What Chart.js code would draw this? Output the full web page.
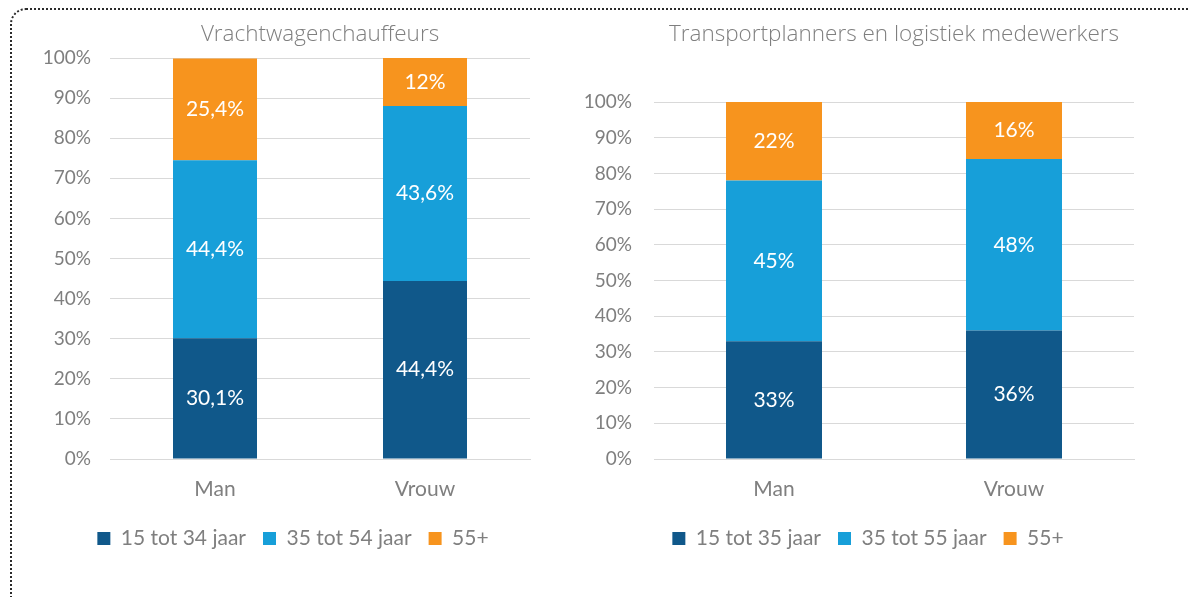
<!DOCTYPE html>
<html>
<head>
<meta charset="utf-8">
<script src="https://cdn.jsdelivr.net/npm/chart.js@4/dist/chart.umd.min.js"></script>
<style>
  html, body { margin:0; padding:0; background:#fff; overflow:hidden; }
  body { width:1190px; height:597px; position:relative; }
  .frame { position:absolute; left:10px; top:8px; width:1300px; height:700px;
           border-top:2px dotted #2b2b2b; border-left:2px dotted #2b2b2b; border-top-left-radius:16px; }
  .wrap { position:absolute; top:0; height:597px; }
  #w1 { left:0; width:560px; }
  #w2 { left:560px; width:630px; }
</style>
</head>
<body>
<div class="frame"></div>
<div class="wrap" id="w1"><canvas id="c1"></canvas></div>
<div class="wrap" id="w2"><canvas id="c2"></canvas></div>
<script>
const categories = ['Man', 'Vrouw'];

// Vrachtwagenchauffeurs
const title1 = 'Vrachtwagenchauffeurs';
const series1Names = ['15 tot 34 jaar', '35 tot 54 jaar', '55+'];
const young1 = [30.1, 44.4];
const middle1 = [44.4, 43.6];
const old1 = [25.4, 12];

// Transportplanners en logistiek medewerkers
const title2 = 'Transportplanners en logistiek medewerkers';
const series2Names = ['15 tot 35 jaar', '35 tot 55 jaar', '55+'];
const young2 = [33, 36];
const middle2 = [45, 48];
const old2 = [22, 16];

const colors = ['#10588A', '#179FD9', '#F7941E'];
const grey = '#7f7f7f';
const font = 'Lato, "Noto Sans", sans-serif';

// white value labels in the middle of each segment
const segLabels = {
  id: 'segLabels',
  afterDatasetsDraw(chart){
    const ctx = chart.ctx;
    ctx.save();
    ctx.fillStyle = '#fff';
    ctx.font = '21px ' + font;
    ctx.textAlign = 'center';
    ctx.textBaseline = 'middle';
    chart.data.datasets.forEach((ds, i) => {
      chart.getDatasetMeta(i).data.forEach((el, j) => {
        const v = ds.data[j];
        ctx.fillText(String(v).replace('.', ',') + '%', el.x, (el.y + el.base) / 2);
      });
    });
    ctx.restore();
  }
};

function build(id, title, names, data, o){
  return new Chart(document.getElementById(id), {
    type: 'bar',
    data: {
      labels: categories,
      datasets: names.map((n, i) => ({
        label: n, data: data[i], backgroundColor: colors[i],
        categoryPercentage: 1, barPercentage: 0.4
      }))
    },
    options: {
      responsive: true, maintainAspectRatio: false, animation: false,
      layout: { padding: { left: o.padL, right: o.padR, top: 0, bottom: 38 } },
      plugins: {
        title: { display: true, text: title, fullSize: false, color: grey,
                 font: { family: '"Open Sans", sans-serif', size: 22.5, weight: 300 },
                 padding: { top: 21.5, bottom: o.titleGap } },
        legend: { position: 'bottom',
                  labels: { color: grey, boxWidth: 13, boxHeight: 13, padding: 17,
                            font: { family: font, size: 21 } } },
        tooltip: { enabled: false }
      },
      scales: {
        x: { stacked: true,
             afterFit(s){ s.height = 52; },
             grid: { display: false, drawTicks: false },
             border: { display: true, color: '#d9d9d9' },
             ticks: { color: grey, padding: 18, font: { family: font, size: 21 } } },
        y: { stacked: true, min: 0, max: 100,
             afterFit(s){ s.width = o.axisW; },
             grid: { color: '#d9d9d9', drawTicks: false },
             border: { display: false },
             ticks: { stepSize: 10, color: grey, padding: o.tickPad,
                      font: { family: font, size: 19 },
                      callback: v => v + '%' } },
        // empty spacer on the right so the legend sits where it should
        yr: { type: 'linear', position: 'right', display: true,
              afterFit(s){ s.width = o.rightW; },
              grid: { display: false, drawTicks: false },
              border: { display: false },
              ticks: { display: false } }
      }
    },
    plugins: [segLabels]
  });
}

build('c1', title1, series1Names, [young1, middle1, old1],
      { padL: 36, padR: 10, axisW: 74, rightW: 20, tickPad: 19, titleGap: 9.5 });
build('c2', title2, series2Names, [young2, middle2, old2],
      { padL: 20, padR: 34, axisW: 74, rightW: 22, tickPad: 22, titleGap: 53.5 });
</script>
</body>
</html>
